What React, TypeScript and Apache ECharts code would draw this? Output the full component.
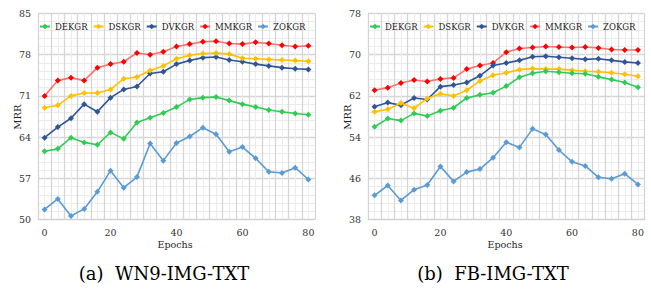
import React, { useEffect, useRef } from "react";
import * as echarts from "echarts";

const epochs = [0, 4, 8, 12, 16, 20, 24, 28, 32, 36, 40, 44, 48, 52, 56, 60, 64, 68, 72, 76, 80];
const seriesNames = ["DEKGR", "DSKGR", "DVKGR", "MMKGR", "ZOKGR"];
const xTickLabels = [0, 20, 40, 60, 80];

// (a) WN9-IMG-TXT
const wnDEKGR = [61.6, 62.0, 63.9, 63.1, 62.7, 64.8, 63.7, 66.5, 67.3, 68.1, 69.1, 70.4, 70.7, 70.8, 70.2, 69.6, 69.1, 68.6, 68.3, 68.0, 67.8];
const wnDSKGR = [69.0, 69.4, 71.0, 71.5, 71.5, 72.1, 73.9, 74.2, 75.3, 76.1, 77.3, 77.9, 78.2, 78.3, 78.1, 77.4, 77.3, 77.2, 77.1, 77.0, 76.9];
const wnDVKGR = [63.9, 65.7, 67.2, 69.6, 68.3, 70.7, 72.1, 72.6, 74.8, 75.1, 76.4, 77.0, 77.5, 77.6, 77.1, 76.8, 76.4, 76.1, 75.8, 75.6, 75.5];
const wnMMKGR = [71.0, 73.6, 74.1, 73.6, 75.8, 76.4, 76.8, 78.3, 78.0, 78.5, 79.4, 79.8, 80.2, 80.3, 79.9, 79.8, 80.1, 79.9, 79.6, 79.4, 79.5];
const wnZOKGR = [51.7, 53.5, 50.6, 51.8, 54.7, 58.3, 55.4, 57.2, 62.9, 60.0, 63.0, 64.1, 65.6, 64.5, 61.5, 62.3, 60.4, 58.1, 57.9, 58.8, 56.8];
const wnYTicks = { min: 50, max: 85, interval: 7 };

// (b) FB-IMG-TXT
const fbDEKGR = [56.0, 57.6, 57.2, 58.6, 58.1, 59.1, 59.7, 61.6, 62.2, 62.6, 63.9, 65.6, 66.4, 66.8, 66.6, 66.4, 66.3, 65.7, 65.2, 64.6, 63.7];
const fbDSKGR = [58.9, 59.4, 60.6, 59.6, 61.5, 62.4, 62.0, 63.1, 64.9, 66.0, 66.5, 67.1, 67.3, 67.2, 67.2, 67.0, 66.8, 66.7, 66.5, 66.2, 65.8];
const fbDVKGR = [59.9, 60.7, 60.2, 61.6, 61.3, 63.8, 64.1, 64.6, 65.9, 67.9, 68.4, 68.9, 69.6, 69.7, 69.5, 69.3, 69.1, 69.2, 68.9, 68.6, 68.4];
const fbMMKGR = [63.1, 63.6, 64.5, 65.1, 64.8, 65.3, 65.5, 67.2, 67.9, 68.4, 70.5, 71.2, 71.4, 71.6, 71.5, 71.4, 71.5, 71.3, 71.0, 70.9, 70.9];
const fbZOKGR = [42.7, 44.6, 41.7, 43.8, 44.7, 48.3, 45.4, 47.2, 47.8, 50.0, 53.0, 52.0, 55.6, 54.5, 51.5, 49.2, 48.4, 46.2, 45.9, 46.9, 44.8];
const fbYTicks = { min: 38, max: 78, interval: 8 };

const lineColors = ["#2ecc52", "#ffc000", "#2f5597", "#ff7070", "#5b9bd5"];
const markerColors = ["#2ecc52", "#ffc000", "#2f5597", "#ff0000", "#5b9bd5"];

const FONT = "DejaVu Serif";

export default function App() {
  const ref = useRef<HTMLDivElement>(null);
  useEffect(() => {
    if (!ref.current) return;
    const chart = echarts.init(ref.current, undefined, { renderer: "svg" });
    const grids = [
      { left: 38, top: 13.5, width: 277, height: 206 },
      { left: 368, top: 13.5, width: 276.5, height: 206 },
    ];
    const datasets = [
      [wnDEKGR, wnDSKGR, wnDVKGR, wnMMKGR, wnZOKGR],
      [fbDEKGR, fbDSKGR, fbDVKGR, fbMMKGR, fbZOKGR],
    ];
    const yTicks = [wnYTicks, fbYTicks];

    const xAxis: any[] = [];
    const yAxis: any[] = [];
    const series: any[] = [];
    const legend: any[] = [];
    [0, 1].forEach((g) => {
      xAxis.push({
        type: "value",
        gridIndex: g,
        min: -2,
        max: 82,
        interval: 4,
        axisLabel: { show: false },
        axisTick: { show: false },
        axisLine: { show: true, lineStyle: { color: "#d0d0d0", width: 1 } },
        splitLine: { show: true, lineStyle: { color: "#d6d6d6", width: 1.3 } },
        minorTick: { show: false, splitNumber: 2 },
        minorSplitLine: { show: true, lineStyle: { color: "#ececec", width: 1 } },
      });
      xAxis.push({
        type: "value",
        gridIndex: g,
        min: -2,
        max: 82,
        position: "bottom",
        axisLabel: {
          customValues: xTickLabels,
          fontFamily: FONT,
          fontSize: 9.5,
          color: "#333",
          margin: 8,
        },
        axisTick: { show: false },
        axisLine: { show: false },
        splitLine: { show: false },
      });
      yAxis.push({
        type: "value",
        gridIndex: g,
        min: yTicks[g].min,
        max: yTicks[g].max,
        interval: yTicks[g].interval,
        axisLabel: { fontFamily: FONT, fontSize: 9.5, color: "#333", margin: 7 },
        axisTick: { show: false },
        axisLine: { show: false },
        splitLine: { show: true, lineStyle: { color: "#d6d6d6", width: 1.3 } },
        minorTick: { show: false, splitNumber: 5 },
        minorSplitLine: { show: true, lineStyle: { color: "#ececec", width: 1 } },
      });
      seriesNames.forEach((name, i) => {
        series.push({
          type: "line",
          name,
          xAxisIndex: g * 2,
          yAxisIndex: g,
          data: epochs.map((e, k) => [e, datasets[g][i][k]]),
          symbol: "diamond",
          symbolSize: 6,
          lineStyle: { color: lineColors[i], width: 1.6 },
          itemStyle: { color: markerColors[i] },
          z: 3 + (4 - i),
        });
      });
      legend.push({
        left: g === 0 ? 39 : 369,
        top: 22,
        width: 300,
        data: seriesNames,
        itemWidth: 10,
        itemHeight: 7,
        itemGap: 5,
        padding: 0,
        textStyle: { fontFamily: FONT, fontSize: 8.5, color: "#222" },
      });
    });

    chart.setOption({
      animation: false,
      backgroundColor: "#ffffff",
      grid: grids,
      xAxis,
      yAxis,
      series,
      legend,
      graphic: [
        {
          type: "text",
          x: 17,
          y: 117,
          rotation: Math.PI / 2,
          style: { text: "MRR", fontFamily: FONT, fontSize: 10, fill: "#222", align: "center", verticalAlign: "middle" },
        },
        {
          type: "text",
          x: 347,
          y: 117,
          rotation: Math.PI / 2,
          style: { text: "MRR", fontFamily: FONT, fontSize: 10, fill: "#222", align: "center", verticalAlign: "middle" },
        },
        {
          type: "text",
          x: 175,
          y: 244,
          style: { text: "Epochs", fontFamily: FONT, fontSize: 9.5, fill: "#222", align: "center", verticalAlign: "middle" },
        },
        {
          type: "text",
          x: 505,
          y: 244,
          style: { text: "Epochs", fontFamily: FONT, fontSize: 9.5, fill: "#222", align: "center", verticalAlign: "middle" },
        },
        {
          type: "text",
          x: 164,
          y: 273,
          style: { text: "(a)  WN9-IMG-TXT", fontFamily: FONT, fontSize: 18, fill: "#000", align: "center", verticalAlign: "middle" },
        },
        {
          type: "text",
          x: 493,
          y: 273,
          style: { text: "(b)  FB-IMG-TXT", fontFamily: FONT, fontSize: 18, fill: "#000", align: "center", verticalAlign: "middle" },
        },
      ],
    });
    return () => chart.dispose();
  }, []);
  return (
    <div
      ref={ref}
      style={{ position: "fixed", left: 0, top: 0, width: 651, height: 289, background: "#fff" }}
    />
  );
}
